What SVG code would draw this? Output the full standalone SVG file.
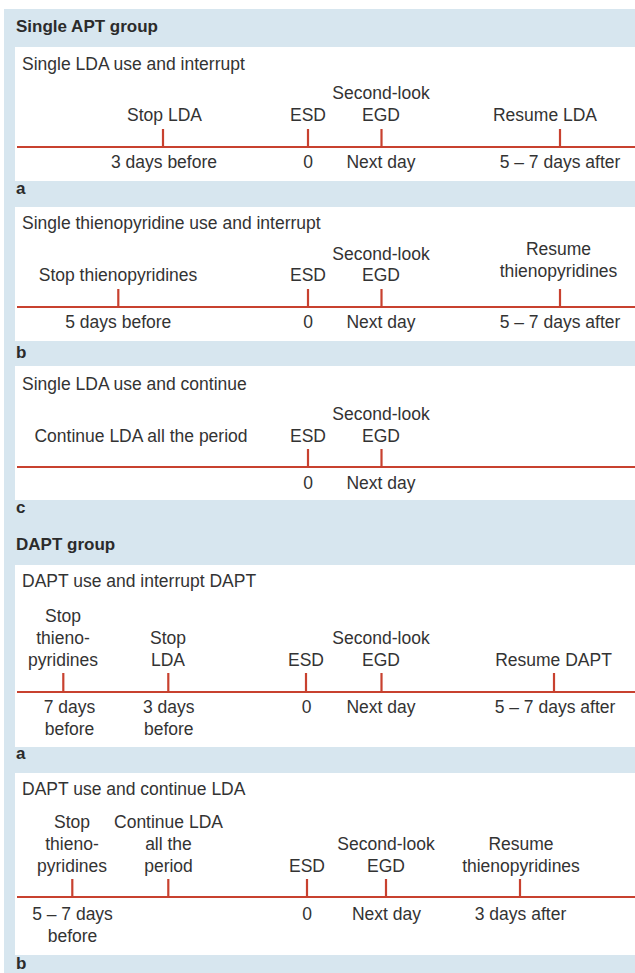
<svg xmlns="http://www.w3.org/2000/svg" width="635" height="973" viewBox="0 0 635 973">
<style>
text{font-family:"Liberation Sans",Arial,sans-serif;font-size:17.5px;fill:#333}
.h{font-weight:bold;font-size:17px;fill:#2b2b2b}
.m{text-anchor:middle}
.ax{stroke:#c8412f;stroke-width:2.2;fill:none}
.tk{stroke:#c8412f;stroke-width:2.2}
.bg{fill:#d7e6ef}
.pn{fill:#fff}
</style>
<rect x="0" y="0" width="635" height="973" fill="#fff"/>
<rect class="bg" x="4" y="9" width="631" height="964"/>

<!-- Single APT group -->
<text class="h" x="16" y="32">Single APT group</text>

<g id="panel-a1">
<rect class="pn" x="15" y="47" width="620" height="134"/>
<text x="22" y="70">Single LDA use and interrupt</text>
<g id="a1-stop"><text class="m" x="164.5" y="121">Stop LDA</text><text class="m" x="164" y="168">3 days before</text></g>
<g id="a1-esd"><text class="m" x="308" y="121">ESD</text><text class="m" x="308" y="168">0</text></g>
<g id="a1-egd"><text class="m" x="381" y="99">Second-look</text><text class="m" x="381" y="121">EGD</text><text class="m" x="381" y="168">Next day</text></g>
<g id="a1-resume"><text class="m" x="545" y="121">Resume LDA</text><text class="m" x="560" y="168">5 – 7 days after</text></g>
</g>
<text class="h" x="16" y="194">a</text>

<g id="panel-b1">
<rect class="pn" x="15" y="207" width="620" height="134"/>
<text x="22" y="229">Single thienopyridine use and interrupt</text>
<g id="b1-stop"><text class="m" x="118" y="281">Stop thienopyridines</text><text class="m" x="118.3" y="328">5 days before</text></g>
<g id="b1-esd"><text class="m" x="308" y="281">ESD</text><text class="m" x="308" y="328">0</text></g>
<g id="b1-egd"><text class="m" x="381" y="260">Second-look</text><text class="m" x="381" y="281">EGD</text><text class="m" x="381" y="328">Next day</text></g>
<g id="b1-resume"><text class="m" x="558.5" y="255">Resume</text><text class="m" x="558.5" y="277">thienopyridines</text><text class="m" x="560" y="328">5 – 7 days after</text></g>
</g>
<text class="h" x="16" y="358">b</text>

<g id="panel-c1">
<rect class="pn" x="15" y="366" width="620" height="134"/>
<text x="22" y="390">Single LDA use and continue</text>
<g id="c1-continue"><text class="m" x="141" y="442">Continue LDA all the period</text></g>
<g id="c1-esd"><text class="m" x="308" y="442">ESD</text><text class="m" x="308" y="489">0</text></g>
<g id="c1-egd"><text class="m" x="381" y="420">Second-look</text><text class="m" x="381" y="442">EGD</text><text class="m" x="381" y="489">Next day</text></g>
</g>
<text class="h" x="16" y="513">c</text>

<!-- DAPT group -->
<text class="h" x="16" y="550">DAPT group</text>

<g id="panel-a2">
<rect class="pn" x="15" y="565" width="620" height="182"/>
<text x="22" y="587">DAPT use and interrupt DAPT</text>
<g id="a2-stop-thieno"><text class="m" x="63" y="622">Stop</text><text class="m" x="63" y="644">thieno-</text><text class="m" x="63" y="666">pyridines</text><text class="m" x="69.5" y="713">7 days</text><text class="m" x="69.5" y="735">before</text></g>
<g id="a2-stop-lda"><text class="m" x="168" y="644">Stop</text><text class="m" x="168" y="666">LDA</text><text class="m" x="168.8" y="713">3 days</text><text class="m" x="168.8" y="735">before</text></g>
<g id="a2-esd"><text class="m" x="306" y="666">ESD</text><text class="m" x="306.5" y="713">0</text></g>
<g id="a2-egd"><text class="m" x="381" y="644">Second-look</text><text class="m" x="381" y="666">EGD</text><text class="m" x="381" y="713">Next day</text></g>
<g id="a2-resume"><text class="m" x="553.5" y="666">Resume DAPT</text><text class="m" x="555" y="713">5 – 7 days after</text></g>
</g>
<text class="h" x="16" y="759">a</text>

<g id="panel-b2">
<rect class="pn" x="15" y="773" width="620" height="182"/>
<text x="22" y="795">DAPT use and continue LDA</text>
<g id="b2-stop-thieno"><text class="m" x="72" y="828">Stop</text><text class="m" x="72" y="850">thieno-</text><text class="m" x="72" y="872">pyridines</text><text class="m" x="72.5" y="920">5 – 7 days</text><text class="m" x="72.5" y="942">before</text></g>
<g id="b2-continue"><text class="m" x="168.5" y="828">Continue LDA</text><text class="m" x="168.5" y="850">all the</text><text class="m" x="168.5" y="872">period</text></g>
<g id="b2-esd"><text class="m" x="307" y="872">ESD</text><text class="m" x="307" y="920">0</text></g>
<g id="b2-egd"><text class="m" x="386" y="850">Second-look</text><text class="m" x="386" y="872">EGD</text><text class="m" x="386.5" y="920">Next day</text></g>
<g id="b2-resume"><text class="m" x="521" y="850">Resume</text><text class="m" x="521" y="872">thienopyridines</text><text class="m" x="520.5" y="920">3 days after</text></g>
</g>
<text class="h" x="16" y="969">b</text>

<!-- timelines and ticks -->
<g id="connectors">
<line class="ax" x1="17" y1="147" x2="635" y2="147"/>
<line class="tk" x1="163" y1="129" x2="163" y2="147"/>
<line class="tk" x1="308" y1="129" x2="308" y2="147"/>
<line class="tk" x1="381.5" y1="129" x2="381.5" y2="147"/>
<line class="tk" x1="560" y1="129" x2="560" y2="147"/>

<line class="ax" x1="17" y1="307" x2="635" y2="307"/>
<line class="tk" x1="118.3" y1="289" x2="118.3" y2="307"/>
<line class="tk" x1="308" y1="289" x2="308" y2="307"/>
<line class="tk" x1="381.5" y1="289" x2="381.5" y2="307"/>
<line class="tk" x1="560" y1="289" x2="560" y2="307"/>

<line class="ax" x1="17" y1="467" x2="635" y2="467"/>
<line class="tk" x1="308" y1="449" x2="308" y2="467"/>
<line class="tk" x1="381.5" y1="449" x2="381.5" y2="467"/>

<line class="ax" x1="17" y1="692" x2="635" y2="692"/>
<line class="tk" x1="63.3" y1="673" x2="63.3" y2="692"/>
<line class="tk" x1="168.3" y1="673" x2="168.3" y2="692"/>
<line class="tk" x1="306" y1="673" x2="306" y2="692"/>
<line class="tk" x1="381.5" y1="673" x2="381.5" y2="692"/>
<line class="tk" x1="554" y1="673" x2="554" y2="692"/>

<line class="ax" x1="17" y1="897" x2="635" y2="897"/>
<line class="tk" x1="72.3" y1="879" x2="72.3" y2="897"/>
<line class="tk" x1="168.3" y1="879" x2="168.3" y2="897"/>
<line class="tk" x1="307" y1="879" x2="307" y2="897"/>
<line class="tk" x1="386" y1="879" x2="386" y2="897"/>
<line class="tk" x1="520" y1="879" x2="520" y2="897"/>
</g>
</svg>
